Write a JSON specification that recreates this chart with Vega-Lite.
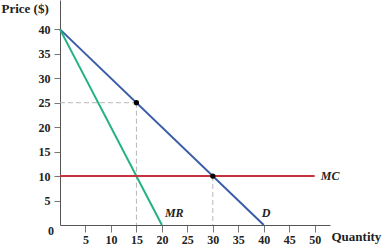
{
  "$schema": "https://vega.github.io/schema/vega-lite/v6.json",
  "width": 270,
  "height": 225,
  "autosize": {"type": "none"},
  "padding": {"left": 60, "top": 0, "right": 58, "bottom": 26},
  "config": {
    "view": {"stroke": null},
    "font": "Liberation Serif",
    "axis": {"grid": false, "domainColor": "#555", "tickColor": "#777", "labelColor": "#222", "labelFont": "Liberation Serif", "labelFontSize": 12, "labelFontWeight": "bold", "labelOverlap": false, "labelFlush": false, "titleFont": "Liberation Serif", "titleFontSize": 13, "titleFontWeight": "bold", "titleColor": "#222"}
  },
  "datasets": {
    "curves": [
      {"series": "D", "x": 0, "y": 40},
      {"series": "D", "x": 40, "y": 0},
      {"series": "MR", "x": 0, "y": 40},
      {"series": "MR", "x": 20, "y": 0},
      {"series": "MC", "x": 0, "y": 10},
      {"series": "MC", "x": 50, "y": 10}
    ],
    "guides": [
      {"x": 0, "y": 25, "x2": 15, "y2": 25},
      {"x": 15, "y": 25, "x2": 15, "y2": 0},
      {"x": 30, "y": 10, "x2": 30, "y2": 0}
    ],
    "dots": [
      {"x": 15, "y": 25},
      {"x": 30, "y": 10}
    ],
    "labels": [
      {"label": "MC", "x": 51.2, "y": 10},
      {"label": "MR", "x": 20.6, "y": 2.4},
      {"label": "D", "x": 39.6, "y": 2.4}
    ]
  },
  "encoding": {
    "x": {"field": "x", "type": "quantitative", "scale": {"domain": [0, 53], "nice": false, "zero": false},
      "axis": {"values": [5, 10, 15, 20, 25, 30, 35, 40, 45, 50], "tickCount": 20, "labelOverlap": false, "tickSize": 7, "labelPadding": 2, "title": "Quantity", "titleAngle": 0, "titleAlign": "left", "titleBaseline": "middle", "titleX": 271, "titleY": 11}},
    "y": {"field": "y", "type": "quantitative", "scale": {"domain": [0, 46], "nice": false, "zero": false},
      "axis": {"values": [5, 10, 15, 20, 25, 30, 35, 40], "tickCount": 20, "labelOverlap": false, "tickSize": 6, "labelPadding": 4, "title": "Price ($)", "titleAngle": 0, "titleAlign": "left", "titleBaseline": "middle", "titleX": -59, "titleY": 8}}
  },
  "layer": [
    {
      "data": {"name": "guides"},
      "mark": {"type": "rule", "color": "#b5b5b5", "strokeDash": [5, 3], "strokeWidth": 1},
      "encoding": {
        "x2": {"field": "x2"},
        "y2": {"field": "y2"}
      }
    },
    {
      "data": {"name": "curves"},
      "mark": {"type": "line", "strokeWidth": 2},
      "encoding": {
        "color": {"field": "series", "type": "nominal", "scale": {"domain": ["D", "MR", "MC"], "range": ["#3a5ca8", "#22b185", "#c8323e"]}, "legend": null},
        "detail": {"field": "series"}
      }
    },
    {
      "data": {"name": "dots"},
      "mark": {"type": "circle", "color": "#000", "size": 28, "opacity": 1},
      "encoding": {}
    },
    {
      "data": {"name": "labels"},
      "mark": {"type": "text", "align": "left", "baseline": "middle", "fontStyle": "italic", "fontWeight": "bold", "fontSize": 12, "color": "#222"},
      "encoding": {
        "text": {"field": "label"}
      }
    },
    {
      "data": {"values": [{"x": 0, "y": 0, "t": "0"}]},
      "mark": {"type": "text", "align": "right", "baseline": "middle", "dx": -6, "dy": 6, "fontSize": 12, "fontWeight": "bold", "color": "#222"},
      "encoding": {
        "text": {"field": "t"}
      }
    }
  ]
}
